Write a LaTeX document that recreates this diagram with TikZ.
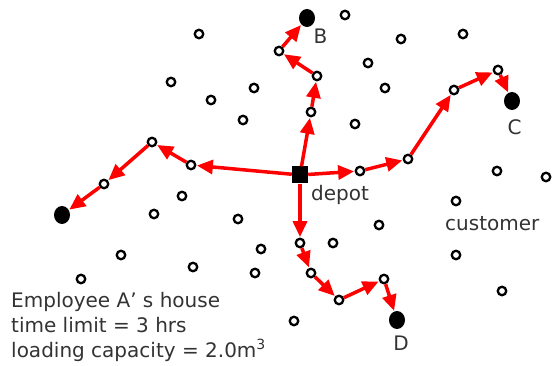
\documentclass[tikz,border=0pt]{standalone}
\usepackage{fontspec}
\setmainfont{DejaVu Sans}
\usetikzlibrary{arrows.meta,shapes.geometric}

\begin{document}
\begin{tikzpicture}[x=1pt,y=-1pt,
    cust/.style={circle,draw=black,fill=white,line width=2.3pt,minimum size=8.5pt,inner sep=0pt},
    house/.style={ellipse,fill=black,minimum width=16pt,minimum height=18pt,inner sep=0pt},
    depotbox/.style={rectangle,fill=black,minimum width=16pt,minimum height=17pt,inner sep=0pt},
    route/.style={red,line width=3.5pt,-{Triangle[length=16pt,width=14pt]},shorten >=0.5pt},
    lbl/.style={font=\fontsize{20}{24}\selectfont,text=black!80,inner sep=0pt}]
  \useasboundingbox (0,0) rectangle (552,366);

  % ---- customers not on any route ---------------------------------------
  \foreach \px/\py [count=\i] in {199/34,345/15,401/39,463/34,171/82,211/100,
      254/88,243/120,368/63,385/88,355/124,497/171,546/177,456/201,379/225,
      333/243,456/255,182/196,154/214,238/219,261/249,121/255,193/267,
      255/273,81/279,502/291,294/321}
    \node[cust] (c\i) at (\px,\py) {};

  % ---- depot and the four end points ------------------------------------
  \node[depotbox] (depot) at (300,175) {};
  \node[house] (hA) at (62,215) {};
  \node[house] (hB) at (307,18) {};
  \node[house] (hC) at (512,101) {};
  \node[house] (hD) at (397,320) {};

  % ---- customers on the routes ------------------------------------------
  \node[cust] (a1) at (191,165) {};
  \node[cust] (a2) at (152,142) {};
  \node[cust] (a3) at (104,184) {};
  \node[cust] (b1) at (311,112) {};
  \node[cust] (b2) at (317,76) {};
  \node[cust] (b3) at (279,51) {};
  \node[cust] (k1) at (360,171) {};
  \node[cust] (k2) at (408,159) {};
  \node[cust] (k3) at (454,90) {};
  \node[cust] (k4) at (498,70) {};
  \node[cust] (d1) at (300,243) {};
  \node[cust] (d2) at (311,273) {};
  \node[cust] (d3) at (339,300) {};
  \node[cust] (d4) at (384,279) {};

  % ---- routes ------------------------------------------------------------
  \draw[route] (depot) -- (a1);
  \draw[route] (a1) -- (a2);
  \draw[route] (a2) -- (a3);
  \draw[route] (a3) -- (hA);
  \draw[route] (depot) -- (b1);
  \draw[route] (b1) -- (b2);
  \draw[route] (b2) -- (b3);
  \draw[route] (b3) -- (hB);
  \draw[route] (depot) -- (k1);
  \draw[route] (k1) -- (k2);
  \draw[route] (k2) -- (k3);
  \draw[route] (k3) -- (k4);
  \draw[route] (k4) -- (hC);
  \draw[route] (depot) -- (d1);
  \draw[route] (d1) -- (d2);
  \draw[route] (d2) -- (d3);
  \draw[route] (d3) -- (d4);
  \draw[route] (d4) -- (hD);

  % ---- labels ------------------------------------------------------------
  \node[lbl,anchor=base] (labB) at (320.5,44) {B};
  \node[lbl,anchor=base] (labC) at (514.5,135) {C};
  \node[lbl,anchor=base] (labD) at (401,351) {D};
  \node[lbl,anchor=base west] (labdepot) at (311,201) {depot};
  \node[lbl,anchor=base west] (labcust) at (445,231) {customer};
  \node[lbl,anchor=base west] (info1) at (11,308) {Employee A’ s house};
  \node[lbl,anchor=base west] (info2) at (11,333) {time limit = 3 hrs};
  \node[lbl,anchor=base west] (info3) at (11,357) {loading capacity = 2.0m\textsuperscript{3}};
\end{tikzpicture}
\end{document}
